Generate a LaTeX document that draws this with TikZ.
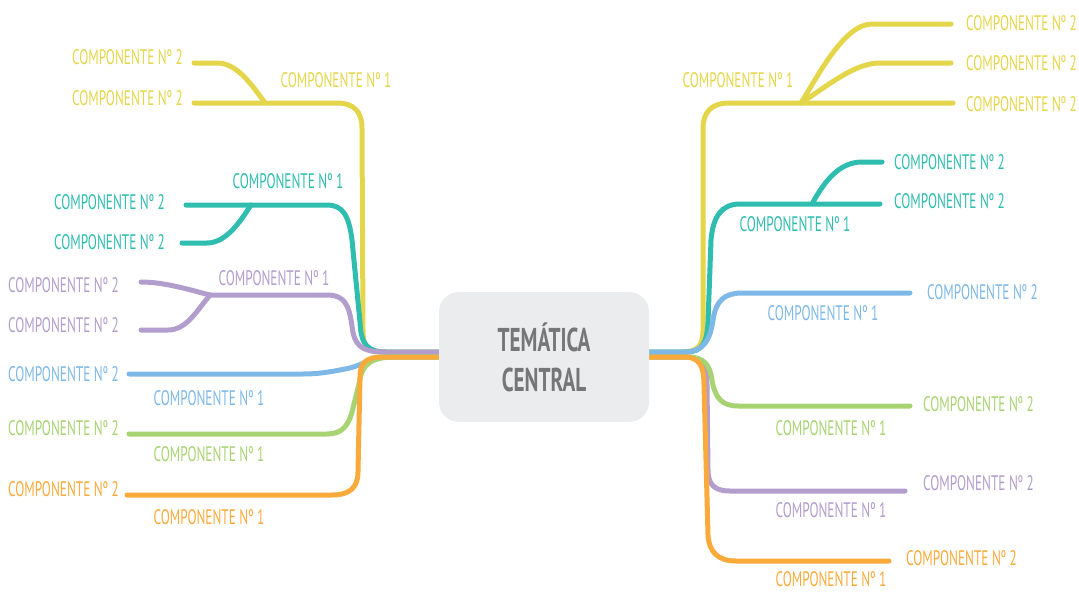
\documentclass[tikz,border=0pt]{standalone}
\usepackage{fontspec}
\newfontfamily\labfont{PT Sans}[FakeStretch=0.63]
\newfontfamily\titfont{PT Sans}[FakeStretch=0.64]
\usetikzlibrary{calc}
\usetikzlibrary{backgrounds}
\usepackage{xcolor}
\definecolor{myyellow}{RGB}{228,214,74}
\definecolor{myteal}{RGB}{46,189,174}
\definecolor{mypurple}{RGB}{178,157,204}
\definecolor{myblue}{RGB}{126,184,230}
\definecolor{mygreen}{RGB}{168,211,114}
\definecolor{myorange}{RGB}{249,170,58}
\definecolor{boxgray}{RGB}{235,236,238}
\definecolor{titgray}{RGB}{118,118,118}

\begin{document}
\begin{tikzpicture}[x=1pt,y=-1pt,
	comp/.style={font=\labfont\fontsize{21}{22}\selectfont,inner sep=0pt},
	branch/.style={line width=5pt,line cap=round,line join=round}]
	\useasboundingbox (0,0) rectangle (1079,592);
	\node(tc) at (544,357)[fill=boxgray,rounded corners=20pt,minimum width=210pt,minimum height=130pt,text=titgray,align=center,font=\titfont\bfseries\fontsize{33}{40}\selectfont]{TEMÁTICA\\CENTRAL};
	\coordinate(tcLa) at ($(tc.west)+(0,-5)$);
	\coordinate(tcRa) at ($(tc.east)+(0,-5)$);
	
	% left side
	\node(ly2a) at (183,57)[comp,text=myyellow,anchor=east]{COMPONENTE Nº 2};
	\node(ly2b) at (183,98)[comp,text=myyellow,anchor=east]{COMPONENTE Nº 2};
	\node(ly1) at (336,80)[comp,text=myyellow]{COMPONENTE Nº 1};
	\node(lt2a) at (165,202)[comp,text=myteal,anchor=east]{COMPONENTE Nº 2};
	\node(lt2b) at (165,242)[comp,text=myteal,anchor=east]{COMPONENTE Nº 2};
	\node(lt1) at (288,181)[comp,text=myteal]{COMPONENTE Nº 1};
	\node(lp2a) at (119,285)[comp,text=mypurple,anchor=east]{COMPONENTE Nº 2};
	\node(lp2b) at (119,325)[comp,text=mypurple,anchor=east]{COMPONENTE Nº 2};
	\node(lp1) at (274,278)[comp,text=mypurple]{COMPONENTE Nº 1};
	\node(lb2) at (119,374)[comp,text=myblue,anchor=east]{COMPONENTE Nº 2};
	\node(lb1) at (209,398)[comp,text=myblue]{COMPONENTE Nº 1};
	\node(lg2) at (119,428)[comp,text=mygreen,anchor=east]{COMPONENTE Nº 2};
	\node(lg1) at (209,454)[comp,text=mygreen]{COMPONENTE Nº 1};
	\node(lo2) at (119,489)[comp,text=myorange,anchor=east]{COMPONENTE Nº 2};
	\node(lo1) at (209,517)[comp,text=myorange]{COMPONENTE Nº 1};
	
	% right side
	\node(ry2a) at (966,23)[comp,text=myyellow,anchor=west]{COMPONENTE Nº 2};
	\node(ry2b) at (966,63)[comp,text=myyellow,anchor=west]{COMPONENTE Nº 2};
	\node(ry2c) at (966,104)[comp,text=myyellow,anchor=west]{COMPONENTE Nº 2};
	\node(ry1) at (738,80)[comp,text=myyellow]{COMPONENTE Nº 1};
	\node(rt2a) at (894,162)[comp,text=myteal,anchor=west]{COMPONENTE Nº 2};
	\node(rt2b) at (894,201)[comp,text=myteal,anchor=west]{COMPONENTE Nº 2};
	\node(rt1) at (795,224)[comp,text=myteal]{COMPONENTE Nº 1};
	\node(rb2) at (927,292)[comp,text=myblue,anchor=west]{COMPONENTE Nº 2};
	\node(rb1) at (823,313)[comp,text=myblue]{COMPONENTE Nº 1};
	\node(rg2) at (923,404)[comp,text=mygreen,anchor=west]{COMPONENTE Nº 2};
	\node(rg1) at (831,428)[comp,text=mygreen]{COMPONENTE Nº 1};
	\node(rp2) at (923,483)[comp,text=mypurple,anchor=west]{COMPONENTE Nº 2};
	\node(rp1) at (831,510)[comp,text=mypurple]{COMPONENTE Nº 1};
	\node(ro2) at (906,558)[comp,text=myorange,anchor=west]{COMPONENTE Nº 2};
	\node(ro1) at (831,579)[comp,text=myorange]{COMPONENTE Nº 1};
	
	\coordinate(lyj) at (265,103);
	\coordinate(ly2a-e) at (194,63);
	\coordinate(ly2b-e) at (194,103);
	\coordinate(ltj) at (251,205);
	\coordinate(lt2a-e) at (186,205);
	\coordinate(lt2b-e) at (182,243);
	\coordinate(lpj) at (210,295);
	\coordinate(lp2a-e) at (141,282);
	\coordinate(lp2b-e) at (141,330);
	\coordinate(lb-e) at (129,374);
	\coordinate(lg-e) at (129,434);
	\coordinate(lo-e) at (127,495);
	\coordinate(ryj) at (801,103);
	\coordinate(ry2a-e) at (951,24);
	\coordinate(ry2b-e) at (951,63);
	\coordinate(ry2c-e) at (953,103);
	\coordinate(rtj) at (812,204);
	\coordinate(rt2a-e) at (882,162);
	\coordinate(rt2b-e) at (880,204);
	\coordinate(rb-e) at (910,293);
	\coordinate(rg-e) at (910,406);
	\coordinate(rp-e) at (905,491);
	\coordinate(ro-e) at (889,561);
	
	\begin{scope}[on background layer]
		\draw[branch,myyellow](tcLa) -- (382,352) .. controls (366,352) and (363,344) .. (363,330) -- (362,128) .. controls (362,112) and (354,103) .. (337,103) -- (lyj) -- (ly2b-e);
		\draw[branch,myyellow](lyj) .. controls (250,82) and (236,63) .. (217,63) -- (ly2a-e);
		\draw[branch,myteal](tcLa) -- (386,352) .. controls (367,352) and (361,344) .. (360,322) -- (352,240) .. controls (349,216) and (343,205) .. (327,205) -- (ltj) -- (lt2a-e);
		\draw[branch,myteal](ltj) .. controls (240,222) and (226,243) .. (207,243) -- (lt2b-e);
		\draw[branch,mypurple](tcLa) -- (384,352) .. controls (360,352) and (354,344) .. (352,326) .. controls (349,304) and (344,295) .. (327,295) -- (lpj);
		\draw[branch,mypurple](lpj) .. controls (190,290) and (165,282) .. (lp2a-e);
		\draw[branch,mypurple](lpj) .. controls (196,312) and (186,330) .. (168,330) -- (lp2b-e);
		\draw[branch,myblue](tc.west) -- (385,357) .. controls (372,357) and (362,366) .. (345,369) .. controls (330,372) and (318,374) .. (303,374) -- (lb-e);
		\draw[branch,mygreen](tc.west) -- (395,357) .. controls (372,357) and (362,364) .. (360,380) -- (353,408) .. controls (349,426) and (342,434) .. (327,434) -- (lg-e);
		\draw[branch,myorange](tc.west) -- (382,357) .. controls (366,357) and (360,363) .. (360,377) -- (358,472) .. controls (358,488) and (349,495) .. (332,495) -- (lo-e);
		
		\draw[branch,myyellow](tcRa) -- (682,352) .. controls (698,352) and (703,345) .. (703,330) -- (703,128) .. controls (703,112) and (712,103) .. (729,103) -- (ryj) -- (ry2c-e);
		\draw[branch,myyellow](ryj) .. controls (820,72) and (845,24) .. (872,24) -- (ry2a-e);
		\draw[branch,myyellow](ryj) .. controls (830,84) and (855,63) .. (880,63) -- (ry2b-e);
		\draw[branch,myteal](tcRa) -- (686,352) .. controls (703,352) and (707,342) .. (708,322) -- (711,240) .. controls (713,216) and (722,204) .. (740,204) -- (rtj) -- (rt2b-e);
		\draw[branch,myteal](rtj) .. controls (825,180) and (840,162) .. (862,162) -- (rt2a-e);
		\draw[branch,myblue](tcRa) -- (684,352) .. controls (704,352) and (710,340) .. (713,320) .. controls (716,300) and (725,293) .. (742,293) -- (rb-e);
		\draw[branch,mypurple](tc.east) -- (688,357) .. controls (702,357) and (707,365) .. (707,385) -- (708,470) .. controls (708,485) and (715,491) .. (730,491) -- (rp-e);
		\draw[branch,mygreen](tc.east) -- (688,357) .. controls (704,357) and (710,365) .. (712,380) .. controls (715,398) and (722,406) .. (738,406) -- (rg-e);
		\draw[branch,myorange](tc.east) -- (684,357) .. controls (699,357) and (704,365) .. (704,385) -- (708,535) .. controls (709,552) and (718,561) .. (736,561) -- (ro-e);
	\end{scope}
\end{tikzpicture}
\end{document}
